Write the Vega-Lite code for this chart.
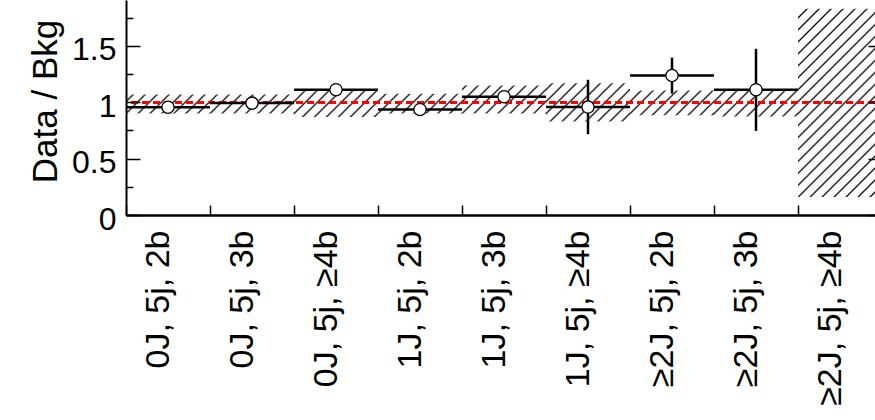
{
  "$schema": "https://vega.github.io/schema/vega-lite/v6.json",
  "width": 749,
  "height": 215,
  "autosize": {"type": "none"},
  "padding": {"left": 126, "top": 0, "right": 0, "bottom": 205},
  "background": "white",
  "config": {"view": {"stroke": null}, "font": "Liberation Sans"},
  "data": {
    "values": [
      {"cat": "0J, 5j, 2b", "val": 0.957, "elo": 0.93, "ehi": 0.98, "lo": 0.90, "hi": 1.07},
      {"cat": "0J, 5j, 3b", "val": 0.993, "elo": 0.96, "ehi": 1.03, "lo": 0.90, "hi": 1.07},
      {"cat": "0J, 5j, ≥4b", "val": 1.112, "elo": 1.06, "ehi": 1.16, "lo": 0.87, "hi": 1.10},
      {"cat": "1J, 5j, 2b", "val": 0.937, "elo": 0.91, "ehi": 0.96, "lo": 0.90, "hi": 1.075},
      {"cat": "1J, 5j, 3b", "val": 1.05, "elo": 1.0, "ehi": 1.10, "lo": 0.90, "hi": 1.15},
      {"cat": "1J, 5j, ≥4b", "val": 0.958, "elo": 0.717, "ehi": 1.20, "lo": 0.83, "hi": 1.17},
      {"cat": "≥2J, 5j, 2b", "val": 1.238, "elo": 1.077, "ehi": 1.396, "lo": 0.885, "hi": 1.105},
      {"cat": "≥2J, 5j, 3b", "val": 1.112, "elo": 0.746, "ehi": 1.475, "lo": 0.875, "hi": 1.115},
      {"cat": "≥2J, 5j, ≥4b", "val": null, "elo": null, "ehi": null, "lo": 0.16, "hi": 1.83}
    ]
  },
  "resolve": {"axis": {"y": "independent"}},
  "layer": [
    {
      "mark": {
        "type": "rect",
        "fill": {
          "gradient": "linear", "x1": 0, "y1": 0, "x2": 0.4714, "y2": 1.2065,
          "stops": [
            {"offset": 0, "color": "#ffffff"},
            {"offset": 0.014, "color": "#ffffff"}, {"offset": 0.02, "color": "#000000"}, {"offset": 0.026, "color": "#ffffff"},
            {"offset": 0.054, "color": "#ffffff"}, {"offset": 0.06, "color": "#000000"}, {"offset": 0.066, "color": "#ffffff"},
            {"offset": 0.094, "color": "#ffffff"}, {"offset": 0.10, "color": "#000000"}, {"offset": 0.106, "color": "#ffffff"},
            {"offset": 0.134, "color": "#ffffff"}, {"offset": 0.14, "color": "#000000"}, {"offset": 0.146, "color": "#ffffff"},
            {"offset": 0.174, "color": "#ffffff"}, {"offset": 0.18, "color": "#000000"}, {"offset": 0.186, "color": "#ffffff"},
            {"offset": 0.214, "color": "#ffffff"}, {"offset": 0.22, "color": "#000000"}, {"offset": 0.226, "color": "#ffffff"},
            {"offset": 0.254, "color": "#ffffff"}, {"offset": 0.26, "color": "#000000"}, {"offset": 0.266, "color": "#ffffff"},
            {"offset": 0.294, "color": "#ffffff"}, {"offset": 0.30, "color": "#000000"}, {"offset": 0.306, "color": "#ffffff"},
            {"offset": 0.334, "color": "#ffffff"}, {"offset": 0.34, "color": "#000000"}, {"offset": 0.346, "color": "#ffffff"},
            {"offset": 0.374, "color": "#ffffff"}, {"offset": 0.38, "color": "#000000"}, {"offset": 0.386, "color": "#ffffff"},
            {"offset": 0.414, "color": "#ffffff"}, {"offset": 0.42, "color": "#000000"}, {"offset": 0.426, "color": "#ffffff"},
            {"offset": 0.454, "color": "#ffffff"}, {"offset": 0.46, "color": "#000000"}, {"offset": 0.466, "color": "#ffffff"},
            {"offset": 0.494, "color": "#ffffff"}, {"offset": 0.50, "color": "#000000"}, {"offset": 0.506, "color": "#ffffff"},
            {"offset": 0.534, "color": "#ffffff"}, {"offset": 0.54, "color": "#000000"}, {"offset": 0.546, "color": "#ffffff"},
            {"offset": 0.574, "color": "#ffffff"}, {"offset": 0.58, "color": "#000000"}, {"offset": 0.586, "color": "#ffffff"},
            {"offset": 0.614, "color": "#ffffff"}, {"offset": 0.62, "color": "#000000"}, {"offset": 0.626, "color": "#ffffff"},
            {"offset": 0.654, "color": "#ffffff"}, {"offset": 0.66, "color": "#000000"}, {"offset": 0.666, "color": "#ffffff"},
            {"offset": 0.694, "color": "#ffffff"}, {"offset": 0.70, "color": "#000000"}, {"offset": 0.706, "color": "#ffffff"},
            {"offset": 0.734, "color": "#ffffff"}, {"offset": 0.74, "color": "#000000"}, {"offset": 0.746, "color": "#ffffff"},
            {"offset": 0.774, "color": "#ffffff"}, {"offset": 0.78, "color": "#000000"}, {"offset": 0.786, "color": "#ffffff"},
            {"offset": 0.814, "color": "#ffffff"}, {"offset": 0.82, "color": "#000000"}, {"offset": 0.826, "color": "#ffffff"},
            {"offset": 0.854, "color": "#ffffff"}, {"offset": 0.86, "color": "#000000"}, {"offset": 0.866, "color": "#ffffff"},
            {"offset": 0.894, "color": "#ffffff"}, {"offset": 0.90, "color": "#000000"}, {"offset": 0.906, "color": "#ffffff"},
            {"offset": 0.934, "color": "#ffffff"}, {"offset": 0.94, "color": "#000000"}, {"offset": 0.946, "color": "#ffffff"},
            {"offset": 0.974, "color": "#ffffff"}, {"offset": 0.98, "color": "#000000"}, {"offset": 0.986, "color": "#ffffff"},
            {"offset": 1, "color": "#ffffff"}
          ]
        },
        "stroke": null
      },
      "encoding": {
        "x": {
          "field": "cat", "type": "nominal", "sort": null,
          "scale": {"range": [0, 756], "paddingInner": 0, "paddingOuter": 0},
          "axis": {
            "title": null, "orient": "bottom", "labelAngle": -90, "labelAlign": "right", "labelBaseline": "middle",
            "labelFontSize": 34, "labelColor": "black", "labelPadding": 25, "labelOffset": -10, "labelLimit": 0,
            "tickBand": "extent", "tickSize": -10, "tickColor": "black", "tickWidth": 1.5,
            "domainColor": "black", "domainWidth": 2.3, "grid": false, "zindex": 1
          }
        },
        "y": {
          "datum": 0, "type": "quantitative",
          "scale": {"domain": [0, 1.908], "nice": false, "zero": false},
          "axis": {
            "orient": "left", "values": [0, 0.5, 1, 1.5], "format": "~g",
            "title": "Data / Bkg", "titleFontSize": 35, "titleFontWeight": "normal", "titleColor": "black", "titlePadding": 8, "titleY": 101,
            "labelFontSize": 32, "labelColor": "black", "labelPadding": 24, "labelOffset": 4, "labelOverlap": false, "labelFlush": false,
            "tickSize": -14, "tickColor": "black", "tickWidth": 1.5,
            "domainColor": "black", "domainWidth": 2, "grid": false, "zindex": 1
          }
        },
        "y2": {"datum": 1.908}
      }
    },
    {
      "mark": {"type": "rect", "fill": "white", "stroke": null},
      "encoding": {
        "x": {"field": "cat", "type": "nominal", "sort": null},
        "y": {"field": "hi", "type": "quantitative", "scale": {"domain": [0, 1.908], "nice": false, "zero": false}, "axis": null},
        "y2": {"datum": 1.908}
      }
    },
    {
      "mark": {"type": "rect", "fill": "white", "stroke": null},
      "encoding": {
        "x": {"field": "cat", "type": "nominal", "sort": null},
        "y": {
          "field": "lo", "type": "quantitative", "scale": {"domain": [0, 1.908], "nice": false, "zero": false},
          "axis": {
            "orient": "left", "values": [0.25, 0.75, 1.25, 1.75], "labels": false, "domain": false, "title": null,
            "tickSize": -7, "tickColor": "black", "tickWidth": 1.5, "grid": false, "zindex": 1
          }
        },
        "y2": {"datum": 0}
      }
    },
    {
      "mark": {"type": "rule", "color": "#ff0000", "strokeWidth": 2.5, "strokeDash": [7, 4]},
      "encoding": {
        "y": {
          "datum": 1, "type": "quantitative", "scale": {"domain": [0, 1.908], "nice": false, "zero": false},
          "axis": {
            "orient": "right", "offset": 7, "values": [0, 0.5, 1, 1.5], "labels": false, "title": null,
            "tickSize": -14, "tickColor": "black", "tickWidth": 1.5, "domainColor": "black", "domainWidth": 2, "grid": false, "zindex": 1
          }
        }
      }
    },
    {
      "transform": [{"filter": "datum.val != null"}],
      "mark": {"type": "rule", "color": "black", "strokeWidth": 2.5},
      "encoding": {
        "x": {"field": "cat", "type": "nominal", "sort": null},
        "y": {"field": "elo", "type": "quantitative", "scale": {"domain": [0, 1.908], "nice": false, "zero": false}, "axis": null},
        "y2": {"field": "ehi"}
      }
    },
    {
      "transform": [{"filter": "datum.val != null"}],
      "mark": {"type": "bar", "fill": null, "stroke": "black", "strokeWidth": 2.5},
      "encoding": {
        "x": {"field": "cat", "type": "nominal", "sort": null},
        "y": {"field": "val", "type": "quantitative", "scale": {"domain": [0, 1.908], "nice": false, "zero": false}, "axis": null},
        "y2": {"field": "val"}
      }
    },
    {
      "transform": [{"filter": "datum.val != null"}],
      "mark": {"type": "circle", "fill": "white", "stroke": "black", "strokeWidth": 1.3, "size": 150, "opacity": 1, "fillOpacity": 1},
      "encoding": {
        "x": {"field": "cat", "type": "nominal", "sort": null},
        "y": {"field": "val", "type": "quantitative", "scale": {"domain": [0, 1.908], "nice": false, "zero": false}, "axis": null}
      }
    }
  ]
}
